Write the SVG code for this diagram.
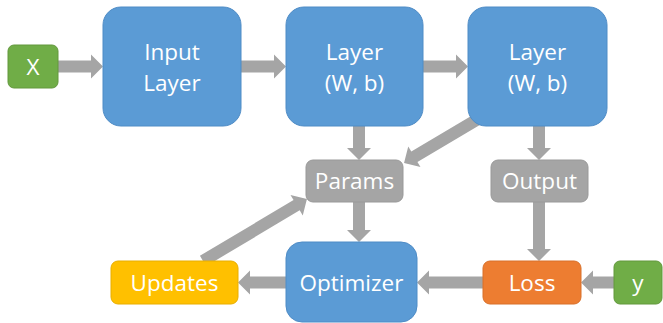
<svg xmlns="http://www.w3.org/2000/svg" width="663" height="323" viewBox="0 0 663 323">
  <style>
    .blue { fill: #5B9BD5; stroke: #4F8CC6; stroke-width: 1; }
    .green { fill: #70AD47; stroke: #62983D; stroke-width: 1; }
    .gray { fill: #A5A5A5; stroke: #999999; stroke-width: 1; }
    .orange { fill: #ED7D31; stroke: #D8702A; stroke-width: 1; }
    .yellow { fill: #FFC000; stroke: #E8AE00; stroke-width: 1; }
    .label { font-family: "Open Sans", "Liberation Sans", sans-serif; font-size: 22.5px; fill: #FFFFFF; text-anchor: middle; }
    .arrow { fill: #A5A5A5; }
  </style>

  <!-- block arrows: shaft 12px, head 24px wide, 12px long -->
  <g id="connectors">
    <path class="arrow" transform="translate(58,66.5)" d="M0,-6 H33 V-12 L45,0 L33,12 V6 H0 Z"/>
    <path class="arrow" transform="translate(241,66.5)" d="M0,-6 H33 V-12 L45,0 L33,12 V6 H0 Z"/>
    <path class="arrow" transform="translate(423,66.5)" d="M0,-6 H33 V-12 L45,0 L33,12 V6 H0 Z"/>
    <path class="arrow" transform="translate(359,126) rotate(90)" d="M0,-6 H22 V-12 L34,0 L22,12 V6 H0 Z"/>
    <path class="arrow" transform="translate(539,126) rotate(90)" d="M0,-6 H22 V-12 L34,0 L22,12 V6 H0 Z"/>
    <path class="arrow" transform="translate(478,119) rotate(149.3)" d="M0,-6 H74 V-12 L86,0 L74,12 V6 H0 Z"/>
    <path class="arrow" transform="translate(359,202) rotate(90)" d="M0,-6 H28 V-12 L40,0 L28,12 V6 H0 Z"/>
    <path class="arrow" transform="translate(539,202) rotate(90)" d="M0,-6 H47 V-12 L59,0 L47,12 V6 H0 Z"/>
    <path class="arrow" transform="translate(483,282.5) rotate(180)" d="M0,-6 H54 V-12 L66,0 L54,12 V6 H0 Z"/>
    <path class="arrow" transform="translate(614,282.5) rotate(180)" d="M0,-6 H21 V-12 L33,0 L21,12 V6 H0 Z"/>
    <path class="arrow" transform="translate(286,282.5) rotate(180)" d="M0,-6 H36 V-12 L48,0 L36,12 V6 H0 Z"/>
    <path class="arrow" transform="translate(203,261) rotate(-30.8)" d="M0,-6 H109 V-12 L121,0 L109,12 V6 H0 Z"/>
  </g>

  <g id="x">
    <rect class="green" x="8" y="45" width="50" height="43" rx="6"/>
    <text class="label" x="33" y="74.5">X</text>
  </g>

  <g id="input-layer">
    <rect class="blue" x="103" y="7" width="138" height="119" rx="18"/>
    <text class="label" x="172" y="60">Input</text>
    <text class="label" x="172" y="91">Layer</text>
  </g>

  <g id="layer-1">
    <rect class="blue" x="286" y="7" width="137" height="119" rx="18"/>
    <text class="label" x="354.5" y="60">Layer</text>
    <text class="label" x="354.5" y="91">(W, b)</text>
  </g>

  <g id="layer-2">
    <rect class="blue" x="468" y="7" width="139" height="119" rx="18"/>
    <text class="label" x="537.5" y="60">Layer</text>
    <text class="label" x="537.5" y="91">(W, b)</text>
  </g>

  <g id="params">
    <rect class="gray" x="306" y="160" width="97" height="42" rx="7"/>
    <text class="label" x="354.5" y="189">Params</text>
  </g>

  <g id="output">
    <rect class="gray" x="491" y="160" width="97" height="42" rx="7"/>
    <text class="label" x="539.5" y="189">Output</text>
  </g>

  <g id="optimizer">
    <rect class="blue" x="286" y="242" width="131" height="80" rx="16"/>
    <text class="label" x="351.5" y="290.5">Optimizer</text>
  </g>

  <g id="updates">
    <rect class="yellow" x="111" y="261" width="127" height="43" rx="7"/>
    <text class="label" x="174.5" y="290.5">Updates</text>
  </g>

  <g id="loss">
    <rect class="orange" x="483" y="261" width="98" height="43" rx="7"/>
    <text class="label" x="532" y="290.5">Loss</text>
  </g>

  <g id="y">
    <rect class="green" x="614" y="261" width="48" height="43" rx="6"/>
    <text class="label" x="638" y="290.5">y</text>
  </g>
</svg>
